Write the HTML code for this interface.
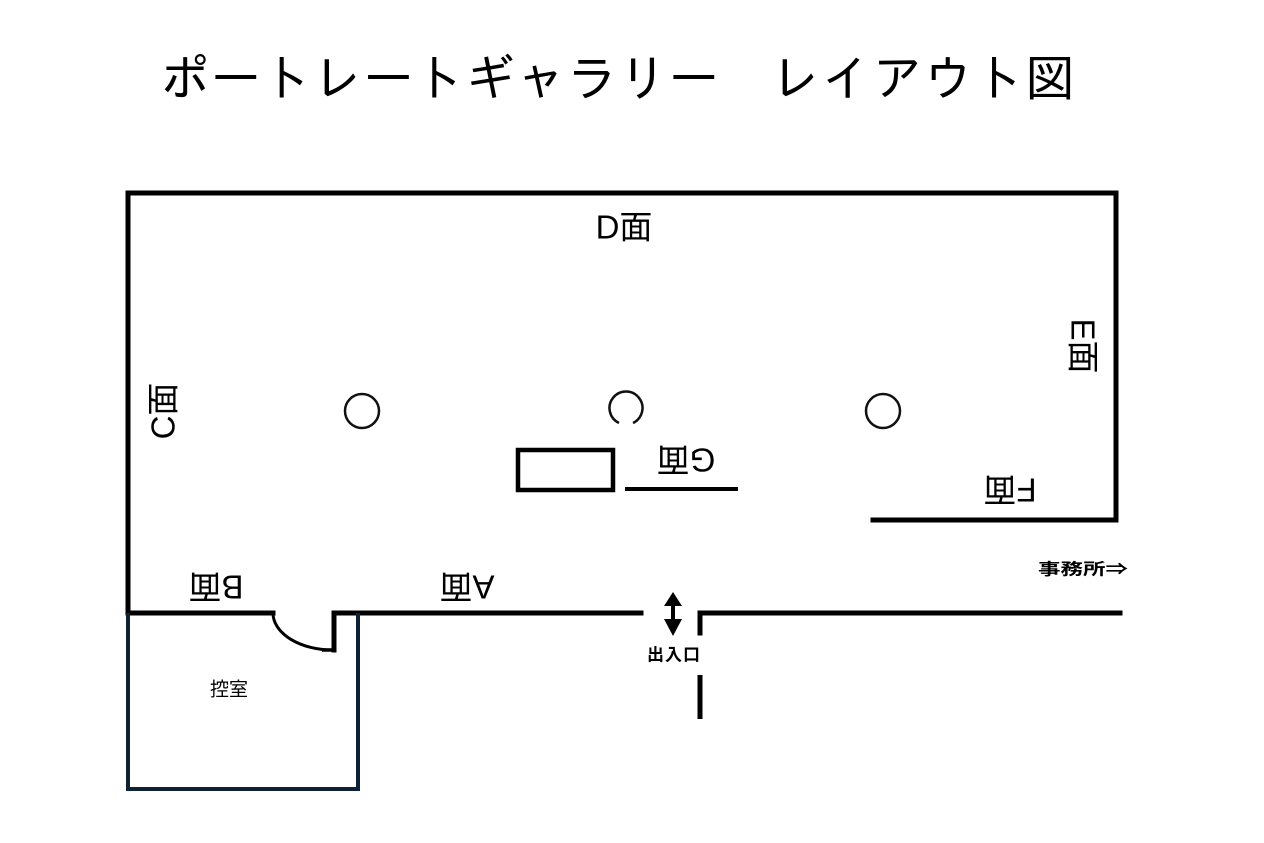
<!DOCTYPE html>
<html>
<head>
<meta charset="utf-8">
<style>
  html,body{margin:0;padding:0;background:#fff;}
  svg{display:block;}
  text{font-family:"Liberation Sans","Noto Sans CJK JP",sans-serif;fill:#000;}
  .t{font-family:"IPAGothic","Noto Sans CJK JP",sans-serif;}
</style>
</head>
<body>
<svg width="1264" height="843" viewBox="0 0 1264 843" xmlns="http://www.w3.org/2000/svg">
  <rect x="0" y="0" width="1264" height="843" fill="#fff"/>

  <!-- Title -->
  <text class="t" x="160" y="78" font-size="50" dominant-baseline="central" textLength="915" lengthAdjust="spacing">ポートレートギャラリー　レイアウト図</text>

  <g fill="none" stroke="#000" stroke-width="5" stroke-linejoin="miter" stroke-linecap="square">
    <!-- main outline -->
    <path d="M873,520 H1116 V193 H128 V613 H273"/>
    <!-- door leaf / jamb -->
    <path d="M334,650 V613 H641" stroke-width="5"/>
    <!-- entrance right side + bottom wall -->
    <path d="M700,633 V613 H1120"/>
    <path d="M700,675 V719" stroke-linecap="butt"/>
    <!-- G wall -->
    <path d="M627,489 H736" stroke-width="4"/>
  </g>

  <!-- door arc -->
  <path d="M273,613 A60,37 0 0 0 333,650" fill="none" stroke="#000" stroke-width="3"/>
  <path d="M322,650 H334" fill="none" stroke="#000" stroke-width="3.5"/>

  <!-- 控室 room -->
  <path d="M358,613 V789 H128 V613" fill="none" stroke="#0f2233" stroke-width="4"/>

  <!-- table rectangle -->
  <rect x="518" y="450" width="95" height="40" fill="none" stroke="#000" stroke-width="4.5"/>

  <!-- pillars -->
  <circle cx="362" cy="411" r="17" fill="none" stroke="#111" stroke-width="2.5"/>
  <circle cx="883" cy="411" r="17" fill="none" stroke="#111" stroke-width="2.5"/>
  <path d="M619,423 A16.5,16.5 0 1 1 633,423" fill="none" stroke="#111" stroke-width="2.5"/>

  <!-- entrance arrow -->
  <polygon points="673,592 682,606 664,606" fill="#000"/>
  <rect x="671" y="604" width="4" height="17" fill="#000"/>
  <polygon points="664,619 682,619 673,636" fill="#000"/>

  <!-- wall labels -->
  <text x="624" y="227" font-size="33" text-anchor="middle" dominant-baseline="central">D面</text>
  <text x="216" y="587" font-size="33" text-anchor="middle" dominant-baseline="central" transform="rotate(180 216 587)">B面</text>
  <text x="467" y="587" font-size="33" text-anchor="middle" dominant-baseline="central" transform="rotate(180 467 587)">A面</text>
  <text x="686" y="460" font-size="33" text-anchor="middle" dominant-baseline="central" transform="rotate(180 686 460)">G面</text>
  <text x="1010" y="490" font-size="33" text-anchor="middle" dominant-baseline="central" transform="rotate(180 1010 490)">F面</text>
  <text x="1083" y="346" font-size="33" text-anchor="middle" dominant-baseline="central" transform="rotate(90 1083 346)">E面</text>
  <text x="163" y="411" font-size="33" text-anchor="middle" dominant-baseline="central" transform="rotate(-90 163 411)">C面</text>

  <!-- small labels -->
  <text x="674" y="655" font-size="17" font-weight="bold" text-anchor="middle" dominant-baseline="central" letter-spacing="1">出入口</text>
  <text x="1038" y="570" font-size="16" font-weight="bold" dominant-baseline="central" textLength="90" lengthAdjust="spacingAndGlyphs">事務所⇒</text>
  <text x="229" y="690" font-size="19" text-anchor="middle" dominant-baseline="central">控室</text>
</svg>
</body>
</html>
